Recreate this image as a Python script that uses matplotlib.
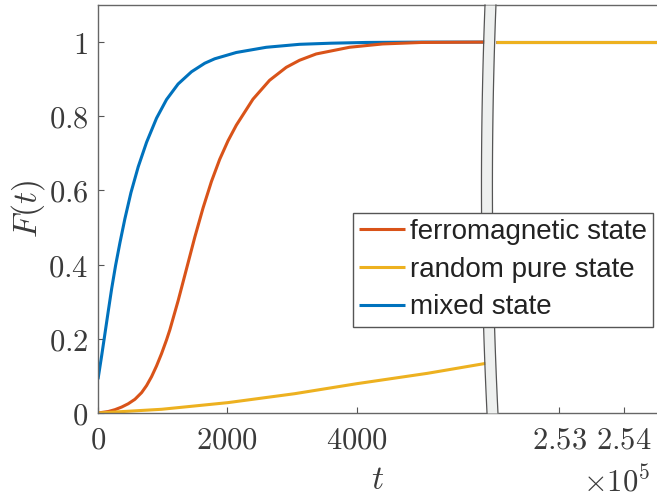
import numpy as np
import matplotlib
matplotlib.use('Agg')
import matplotlib.pyplot as plt

plt.rcParams['mathtext.fontset'] = 'cm'

# left piece of the broken axis (t <= 6000)
t_mixed = [0, 57, 98, 159, 211, 272, 339, 416, 509, 622, 751, 905, 1059, 1238, 1445, 1650, 1804,
           2138, 2601, 3115, 3600, 4140, 5000, 6000]
f_mixed = [0.091, 0.155, 0.203, 0.275, 0.335, 0.398, 0.459, 0.524, 0.594, 0.664, 0.730, 0.795, 0.845,
           0.887, 0.920, 0.943, 0.955, 0.972, 0.986, 0.994, 0.997, 0.999, 1.0, 1.0]

t_ferro = [0, 159, 262, 365, 468, 571, 674, 751, 828, 905, 982, 1059, 1110, 1239, 1367, 1496, 1624,
           1753, 1881, 2010, 2138, 2395, 2652, 2910, 3115, 3372, 3886, 4400, 5000, 6000]
f_ferro = [0, 0.004, 0.009, 0.016, 0.025, 0.037, 0.055, 0.074, 0.098, 0.127, 0.160, 0.197, 0.224, 0.303,
           0.388, 0.474, 0.553, 0.624, 0.684, 0.734, 0.776, 0.846, 0.897, 0.932, 0.951, 0.968, 0.986,
           0.995, 0.999, 1.0]

t_random = [0, 982, 2010, 3038, 3999, 5093, 6000]
f_random = [0, 0.010, 0.028, 0.052, 0.079, 0.107, 0.134]

# right piece (t >= 252020)
t_right = [252020, 253000, 254000, 254510]
f_ferro_r = [1.0, 1.0, 1.0, 1.0]
f_random_r = [1.0, 1.0, 1.0, 1.0]
f_mixed_r = [1.0, 1.0, 1.0, 1.0]

xticks = [0, 2000, 4000, 253000, 254000]
xticklabels = ['$0$', '$2000$', '$4000$', '$2.53$', '$2.54$']
yticks = [0, 0.2, 0.4, 0.6, 0.8, 1.0]
yticklabels = ['$0$', '$0.2$', '$0.4$', '$0.6$', '$0.8$', '$1$']

# broken axis: squeeze the gap between the two pieces
A, B, GAP = 6000.0, 252020.0, 150.0


def fwd(t):
    t = np.asarray(t, dtype=float)
    mid = A + (t - A) * GAP / (B - A)
    return np.where(t <= A, t, np.where(t >= B, t - (B - A) + GAP, mid))


def inv(u):
    u = np.asarray(u, dtype=float)
    mid = A + (u - A) * (B - A) / GAP
    return np.where(u <= A, u, np.where(u >= A + GAP, u + (B - A) - GAP, mid))


blue = '#0072BD'
red = '#D95319'
yellow = '#EDB120'

fig = plt.figure(figsize=(6.57, 4.96), dpi=100)
ax = fig.add_axes([98 / 657, 83 / 496, 559 / 657, 408 / 496])
ax.set_xscale('function', functions=(fwd, inv))

lw = 2.2
kw = dict(lw=lw, zorder=2, solid_joinstyle='round', solid_capstyle='butt')
ax.plot(t_mixed, f_mixed, color=blue, **kw)
ax.plot(t_ferro, f_ferro, color=red, **kw)
ax.plot(t_random, f_random, color=yellow, **kw)
lm, = ax.plot(t_right, f_mixed_r, color=blue, **kw)
lf, = ax.plot(t_right, f_ferro_r, color=red, **kw)
lr, = ax.plot(t_right, f_random_r, color=yellow, **kw)

ax.set_xlim(0, 254510)
ax.set_ylim(0, 1.1)
ax.set_xticks(xticks)
ax.set_xticklabels(xticklabels)
ax.set_yticks(yticks)
ax.set_yticklabels(yticklabels)
ax.tick_params(direction='in', length=4, width=0.8, colors='#555555',
               labelcolor='#3a3a3a', labelsize=22)
ax.tick_params(axis='x', pad=9)
ax.tick_params(axis='y', pad=7)
for s in ['left', 'bottom', 'top']:
    ax.spines[s].set_color('#666666')
    ax.spines[s].set_linewidth(1.0)
ax.spines['right'].set_visible(False)

ax.set_xlabel('$t$', fontsize=24, color='#3a3a3a', labelpad=6)
ax.set_ylabel('$F(t)$', fontsize=24, color='#3a3a3a', labelpad=1)
fig.text(650 / 657, 1 - 481 / 496, r'$\times10^5$', fontsize=22, color='#3a3a3a',
         ha='right', va='center')

# break marker: a curved light band across the axes
yb = np.linspace(0, 1, 60)
cc = np.polyfit([0, 0.497, 1], [0.7057, 0.6959, 0.7021], 2)
cx = np.polyval(cc, yb)
hw = 0.0098
ax.fill_betweenx(yb, cx - hw, cx + hw, color='#EEF0EF', lw=0,
                 transform=ax.transAxes, zorder=3, clip_on=False)
ax.plot(cx - hw, yb, color='#555555', lw=0.9, transform=ax.transAxes, zorder=3.1, clip_on=False)
ax.plot(cx + hw, yb, color='#555555', lw=0.9, transform=ax.transAxes, zorder=3.1, clip_on=False)

leg = ax.legend([lf, lr, lm], ['ferromagnetic state', 'random pure state', 'mixed state'],
                loc='upper right', bbox_to_anchor=(653 / 657, 1 - 213 / 496),
                bbox_transform=fig.transFigure,
                prop={'family': 'Liberation Sans', 'size': 20},
                handlelength=1.65, handletextpad=0.18, labelspacing=0.42,
                borderpad=0.22, borderaxespad=0, fancybox=False, framealpha=1)
leg.get_frame().set_edgecolor('#555555')
leg.get_frame().set_linewidth(1.0)
leg.set_zorder(5)
for text in leg.get_texts():
    text.set_color('#222222')

fig.savefig('out.png', dpi=100)
